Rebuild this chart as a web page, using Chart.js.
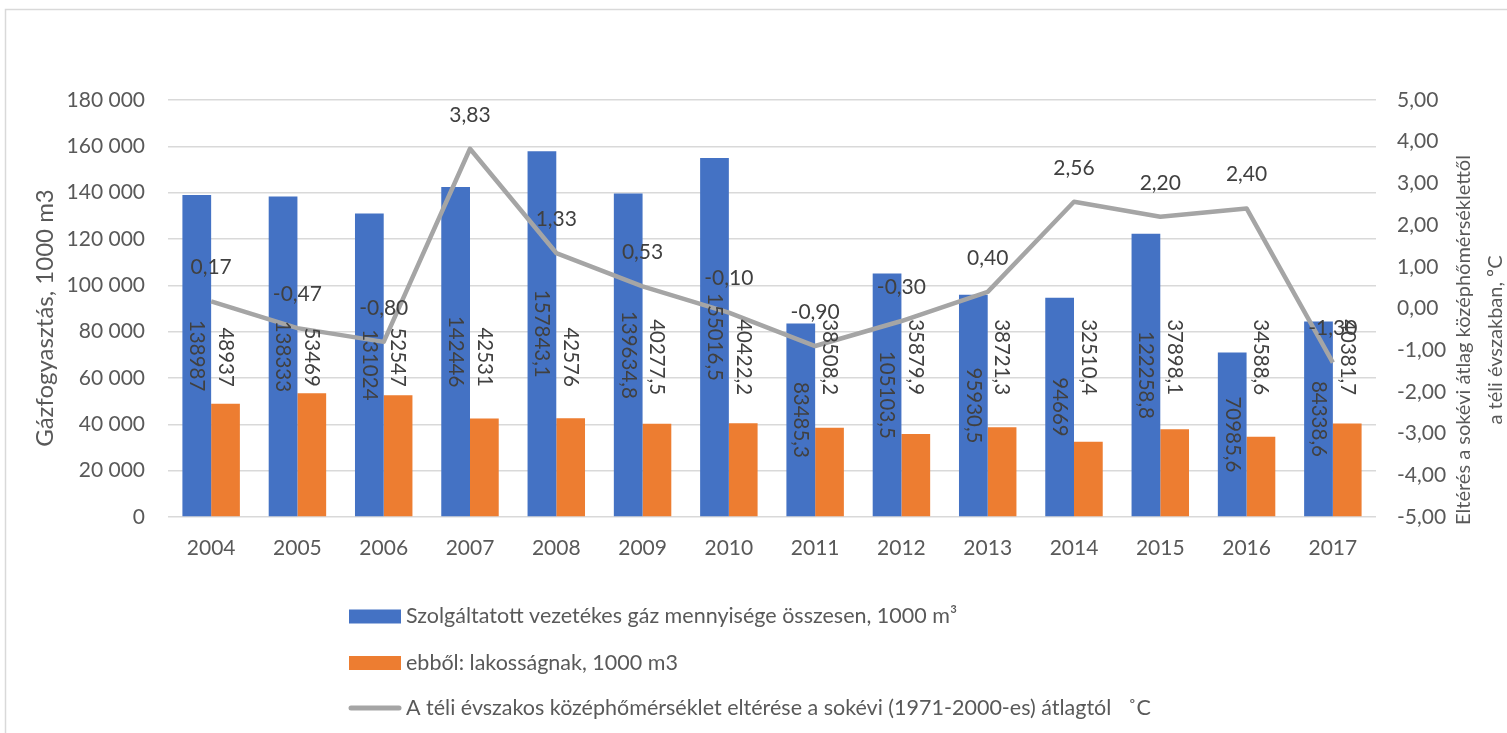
<!DOCTYPE html>
<html>
<head>
<meta charset="utf-8">
<script src="https://cdn.jsdelivr.net/npm/chart.js@4/dist/chart.umd.min.js"></script>
<style>
html, body { margin: 0; padding: 0; background: #fff; overflow: hidden; }
</style>
</head>
<body>
<canvas id="gas" width="1507" height="733"></canvas>
<script>
// years on the x axis
const years = ['2004', '2005', '2006', '2007', '2008', '2009', '2010', '2011', '2012', '2013', '2014', '2015', '2016', '2017'];
// gas supplied in total, 1000 m3
const osszesen = [138987, 138333, 131024, 142446, 157843.1, 139634.8, 155016.5, 83485.3, 105103.5, 95930.5, 94669, 122258.8, 70985.6, 84338.6];
// of which households, 1000 m3
const lakossag = [48937, 53469, 52547, 42531, 42576, 40277.5, 40422.2, 38508.2, 35879.9, 38721.3, 32510.4, 37898.1, 34588.6, 40381.7];
// winter temperature deviation from the 1971-2000 average, °C
const elteres = [0.17, -0.47, -0.80, 3.83, 1.33, 0.53, -0.10, -0.90, -0.30, 0.40, 2.56, 2.20, 2.40, -1.30];

const seriesNames = [
    'Szolgáltatott vezetékes gáz mennyisége összesen, 1000 m³',
    'ebből: lakosságnak, 1000 m3',
    'A téli évszakos középhőmérséklet eltérése a sokévi (1971-2000-es) átlagtól   ˚C'
];
const leftTitle = 'Gázfogyasztás, 1000 m3';
const rightTitle = ['Eltérés a sokévi átlag középhőmérséklettől', 'a téli évszakban, ºC'];

const FONT = 'Lato, "Liberation Sans", sans-serif';
const AXIS_COL = '#595959';
const LABEL_COL = '#404040';

function spaced(v){
    return String(v).replace(/\B(?=(\d{3})+(?!\d))/g, ' ');
}
function comma(v){
    return String(v).replace('.', ',');
}

// frame around the chart like the excel chart area
const frame = {
    id: 'frame',
    beforeDraw(chart){
        const c = chart.ctx;
        c.save();
        c.strokeStyle = '#d9d9d9';
        c.lineWidth = 1.5;
        c.strokeRect(5.5, 9.5, 3000, 3000);
        c.restore();
    }
};

// value labels: rotated on the bars, above the line
const valueLabels = {
    id: 'valueLabels',
    afterDatasetsDraw(chart){
        const c = chart.ctx;
        const y = chart.scales.y;
        c.save();
        c.fillStyle = LABEL_COL;
        c.font = '20.5px ' + FONT;
        c.textAlign = 'center';
        c.textBaseline = 'middle';
        chart.getDatasetMeta(0).data.forEach((el, i) => {
            c.save();
            c.translate(el.x, (el.y + el.base)/2);
            c.rotate(Math.PI/2);
            c.fillText(comma(osszesen[i]), 0, 0);
            c.restore();
        });
        const oy = y.getPixelForValue(69000);
        chart.getDatasetMeta(1).data.forEach((el, i) => {
            c.save();
            c.translate(el.x, oy);
            c.rotate(Math.PI/2);
            c.fillText(comma(lakossag[i]), 0, 0);
            c.restore();
        });
        c.font = '21px ' + FONT;
        chart.getDatasetMeta(2).data.forEach((el, i) => {
            c.fillText(elteres[i].toFixed(2).replace('.', ','), el.x, el.y - 34);
        });
        c.restore();
    }
};

// axis titles read bottom-to-top, and the legend is a vertical list
const extras = {
    id: 'extras',
    afterDraw(chart){
        const c = chart.ctx;
        const a = chart.chartArea;
        c.save();
        c.fillStyle = AXIS_COL;
        c.textAlign = 'center';
        c.textBaseline = 'middle';
        c.font = '24px ' + FONT;
        c.save();
        c.translate(45, 318);
        c.rotate(-Math.PI/2);
        c.fillText(leftTitle, 0, 0);
        c.restore();
        c.font = '20px ' + FONT;
        c.translate(1464, 340);
        c.rotate(-Math.PI/2);
        rightTitle.forEach((t, i) => c.fillText(t, 0, i*32));
        c.restore();

        c.save();
        c.font = '21.5px ' + FONT;
        c.textBaseline = 'middle';
        const ds = chart.data.datasets;
        const rows = [a.bottom + 99.5, a.bottom + 146, a.bottom + 191];
        ds.forEach((d, i) => {
            const ry = rows[i];
            if(d.type === 'line'){
                c.strokeStyle = d.borderColor;
                c.lineWidth = 5;
                c.lineCap = 'round';
                c.beginPath();
                c.moveTo(351, ry);
                c.lineTo(399, ry);
                c.stroke();
            }else{
                c.fillStyle = d.backgroundColor;
                c.fillRect(349, ry - 7, 52, 14);
            }
            c.fillStyle = AXIS_COL;
            c.fillText(d.label, 406, ry);
        });
        c.restore();
    }
};

const ctx = document.getElementById('gas');
const gas = new Chart(ctx, {
    type: 'bar',
    data: {
        labels: years,
        datasets: [{
            label: seriesNames[0],
            data: osszesen,
            backgroundColor: '#4472C4',
            yAxisID: 'y',
            order: 2,
            categoryPercentage: 0.666,
            barPercentage: 1
        },{
            label: seriesNames[1],
            data: lakossag,
            backgroundColor: '#ED7D31',
            yAxisID: 'y',
            order: 2,
            categoryPercentage: 0.666,
            barPercentage: 1
        },{
            type: 'line',
            label: seriesNames[2],
            data: elteres,
            borderColor: '#A5A5A5',
            backgroundColor: '#A5A5A5',
            borderWidth: 4.5,
            pointRadius: 0,
            tension: 0,
            borderJoinStyle: 'round',
            yAxisID: 'y1',
            order: 1
        }]
    },
    options: {
        responsive: false,
        animation: false,
        layout: { padding: { top: 100, left: 0, right: 0, bottom: 0 } },
        plugins: {
            legend: { display: false },
            tooltip: { enabled: false }
        },
        scales: {
            x: {
                grid: { display: false, drawTicks: false },
                border: { display: false },
                ticks: { color: AXIS_COL, font: { family: FONT, size: 21 }, padding: 19 },
                afterFit(s){ s.height = 216; }
            },
            y: {
                position: 'left',
                min: 0,
                max: 180000,
                grid: { color: '#d9d9d9', lineWidth: 1.5, drawTicks: false },
                border: { display: false },
                ticks: { stepSize: 20000, color: AXIS_COL, font: { family: FONT, size: 21 }, padding: 23, callback: v => spaced(v) },
                afterFit(s){ s.width = 168; }
            },
            y1: {
                position: 'right',
                min: -5,
                max: 5,
                grid: { display: false, drawTicks: false },
                border: { display: false },
                ticks: { stepSize: 1, color: AXIS_COL, font: { family: FONT, size: 21 }, padding: 21, callback: v => v.toFixed(2).replace('.', ',') },
                afterFit(s){ s.width = 131; }
            }
        }
    },
    plugins: [frame, valueLabels, extras]
});
</script>
</body>
</html>
